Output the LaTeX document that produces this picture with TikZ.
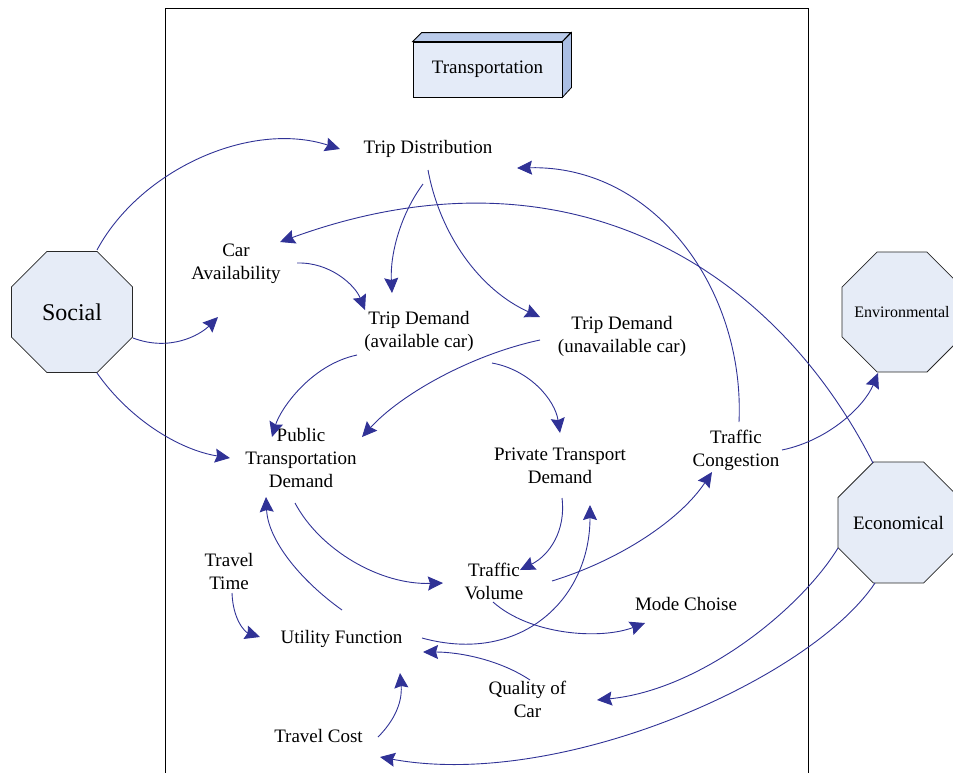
\documentclass[tikz,border=0pt]{standalone}
\usepackage{fontspec}
\setmainfont{Liberation Serif}
\usetikzlibrary{arrows.meta,shapes.geometric}
\definecolor{lnblue}{RGB}{48,50,150}
\definecolor{octfill}{RGB}{230,236,247}
\definecolor{octdraw}{RGB}{40,40,40}
\definecolor{frontc}{RGB}{228,235,248}
\definecolor{topc}{RGB}{186,203,234}
\definecolor{sidec}{RGB}{170,190,228}
\tikzset{
  lbl/.style={align=center, inner sep=0pt, font=\fontsize{19}{23}\selectfont},
  oct/.style={regular polygon, regular polygon sides=8, minimum size=131pt, inner sep=0pt,
              draw=octdraw, line width=0.8pt, fill=octfill},
  conn/.style={draw=lnblue, line width=0.9pt,
               -{Stealth[length=15pt,width=14pt,inset=2pt,fill=lnblue]}},
}
\begin{document}
\begin{tikzpicture}[x=1pt,y=-1pt]
\useasboundingbox (0,0) rectangle (953,772);
\clip (0,0) rectangle (953,772);
% frame
\draw[line width=1pt] (165,790) |- (808,8) -- (808,790);
% Transportation box
\node[draw, line width=0.8pt, fill=frontc, minimum width=149pt, minimum height=55pt, inner sep=0pt,
      font=\fontsize{19}{23}\selectfont] (trans) at (487.5,69.5) {Transportation};
\draw[line width=0.8pt, fill=topc] (trans.north west) -- ++(9,-9) -- ++(149,0) -- (trans.north east) -- cycle;
\draw[line width=0.8pt, fill=sidec] (trans.north east) -- ++(9,-9) -- ++(0,55) -- (trans.south east) -- cycle;
% octagons
\node[oct, label={[inner sep=0pt, font=\fontsize{24}{28}\selectfont]center:Social}] (soc) at (72,312) {};
\node[oct, minimum size=130pt, label={[inner sep=0pt, font=\fontsize{16}{19}\selectfont]center:Environmental}] (env) at (902,312) {};
\node[oct, label={[inner sep=0pt, font=\fontsize{19}{23}\selectfont]center:Economical}] (eco) at (898.5,522.5) {};
% labels
\node[lbl] (tdist) at (428,149) {Trip Distribution};
\node[lbl] (car) at (236,264) {Car\\Availability};
\node[lbl] (tda) at (419,331) {Trip Demand\\(available car)};
\node[lbl] (tdu) at (622,336) {Trip Demand\\(unavailable car)};
\node[lbl] (ptd) at (301,458) {Public\\Transportation\\Demand};
\node[lbl] (prd) at (560,466) {Private Transport\\Demand};
\node[lbl] (cong) at (736,450) {Traffic\\Congestion};
\node[lbl] (tvol) at (494,581) {Traffic\\Volume};
\node[lbl] (ttime) at (229,571.5) {Travel\\Time};
\node[lbl] (util) at (341.5,639) {Utility Function};
\node[lbl] (mode) at (686,603.5) {Mode Choise};
\node[lbl] (qual) at (527.5,699.5) {Quality of\\Car};
\node[lbl] (tcost) at (318.5,736) {Travel Cost};
% connectors
\path[conn] ([shift={(25,-62)}]soc.center) .. controls (140,170) and (250,120) .. ([shift={(-88,0)}]tdist.center);
\path[conn] ([shift={(61,26)}]soc.center) .. controls (170,352) and (200,335) .. ([shift={(-18,53)}]car.center);
\path[conn] ([shift={(25,61)}]soc.center) .. controls (130,420) and (180,450) .. ([shift={(-71,0)}]ptd.center);
\path[conn] ([shift={(-5,35)}]tdist.center) .. controls (400,215) and (390,255) .. ([shift={(-27,-38)}]tda.center);
\path[conn] ([shift={(0,21)}]tdist.center) .. controls (440,235) and (480,290) .. ([shift={(-82,-19)}]tdu.center);
\path[conn] ([shift={(61,-1)}]car.center) .. controls (330,262) and (355,285) .. ([shift={(-54,-21)}]tda.center);
\path[conn] ([shift={(-25.5,-59.5)}]eco.center) .. controls (770,260) and (560,140) .. ([shift={(44,-22)}]car.center);
\path[conn] ([shift={(3,-28)}]cong.center) .. controls (745,290) and (655,165) .. ([shift={(89,19)}]tdist.center);
\path[conn] ([shift={(-62,24)}]tda.center) .. controls (310,365) and (280,410) .. ([shift={(-29,-21)}]ptd.center);
\path[conn] ([shift={(-82,4)}]tdu.center) .. controls (470,355) and (400,395) .. ([shift={(61,-21)}]ptd.center);
\path[conn] ([shift={(73,32)}]tda.center) .. controls (530,370) and (555,400) .. ([shift={(0,-33)}]prd.center);
\path[conn] ([shift={(46,0)}]cong.center) .. controls (830,440) and (865,405) .. ([shift={(-24,61)}]env.center);
\path[conn] ([shift={(-6,45)}]ptd.center) .. controls (320,550) and (380,585) .. ([shift={(-51,2)}]tvol.center);
\path[conn] ([shift={(2,32)}]prd.center) .. controls (566,530) and (550,555) .. ([shift={(26,-11)}]tvol.center);
\path[conn] ([shift={(58,0)}]tvol.center) .. controls (620,560) and (680,520) .. ([shift={(-24,22)}]cong.center);
\path[conn] ([shift={(0.5,-29)}]util.center) .. controls (300,580) and (268,540) .. ([shift={(-35,39)}]ptd.center);
\path[conn] ([shift={(80.5,-1)}]util.center) .. controls (520,665) and (590,600) .. ([shift={(30,39)}]prd.center);
\path[conn] ([shift={(-1,21)}]tvol.center) .. controls (530,635) and (600,640) .. ([shift={(-41,19.5)}]mode.center);
\path[conn] ([shift={(3,21.5)}]ttime.center) .. controls (233,620) and (245,632) .. ([shift={(-81.5,-2)}]util.center);
\path[conn] ([shift={(2.5,-19.5)}]qual.center) .. controls (500,660) and (460,652) .. ([shift={(81.5,13)}]util.center);
\path[conn] ([shift={(59.5,1)}]tcost.center) .. controls (400,715) and (402,695) .. ([shift={(58.5,34)}]util.center);
\path[conn] ([shift={(-60.5,25.5)}]eco.center) .. controls (800,610) and (700,690) .. ([shift={(69.5,0.5)}]qual.center);
\path[conn] ([shift={(-23.5,60.5)}]eco.center) .. controls (810,680) and (560,790) .. ([shift={(61.5,21)}]tcost.center);
\end{tikzpicture}
\end{document}
